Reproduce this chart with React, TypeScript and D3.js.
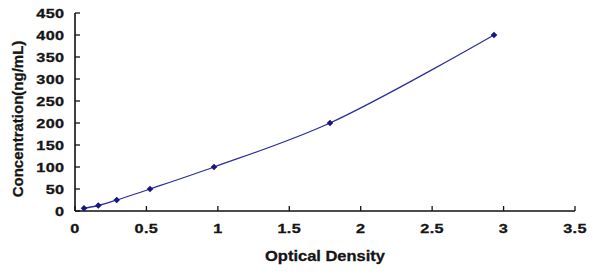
import React from "react";
import * as d3 from "d3";

const odValues = [0.063, 0.163, 0.292, 0.525, 0.973, 1.785, 2.933];
const concValues = [6.25, 12.5, 25, 50, 100, 200, 400];
const xTicks = [0, 0.5, 1, 1.5, 2, 2.5, 3, 3.5];
const yTicks = [0, 50, 100, 150, 200, 250, 300, 350, 400, 450];
const xTitle = "Optical Density";
const yTitle = "Concentration(ng/mL)";

const W = 600;
const H = 276;

export default function App() {
  const x = d3.scaleLinear().domain([0, 3.5]).range([75, 575]);
  const y = d3.scaleLinear().domain([0, 450]).range([211, 13]);
  const pts = odValues.map((v, i) => [v, concValues[i]] as [number, number]);
  const line = d3
    .line<[number, number]>()
    .x((d) => x(d[0]))
    .y((d) => y(d[1]))
    .curve(d3.curveCatmullRom.alpha(0.5));
  const font = "'Liberation Sans', Arial, sans-serif";
  const marker = d3.symbol().type(d3.symbolSquare).size(22)() || "";
  return (
    <svg
      width={W}
      height={H}
      style={{ position: "absolute", left: 0, top: 0, background: "#fff" }}
    >
      <rect width={W} height={H} fill="#fff" />
      <line x1={75} y1={y(450)} x2={75} y2={y(0)} stroke="#111" strokeWidth={1.6} />
      <line x1={75} y1={y(0)} x2={575} y2={y(0)} stroke="#111" strokeWidth={1.6} />
      {yTicks.map((t) => (
        <g key={"y" + t}>
          <line x1={75} x2={80} y1={y(t)} y2={y(t)} stroke="#111" strokeWidth={1.3} />
          <text
            transform={`translate(64.5,${y(t) + 4.6}) scale(1.3,1)`}
            textAnchor="end"
            fontFamily={font}
            fontWeight="bold"
            fontSize={12.5}
            letterSpacing={0.3}
            fill="#151515"
            stroke="#151515"
            strokeWidth={0.3}
          >
            {t}
          </text>
        </g>
      ))}
      {xTicks.map((t) => (
        <g key={"x" + t}>
          <line x1={x(t)} x2={x(t)} y1={y(0)} y2={y(0) - 5} stroke="#111" strokeWidth={1.3} />
          <text
            transform={`translate(${x(t)},${232.5}) scale(1.3,1)`}
            textAnchor="middle"
            fontFamily={font}
            fontWeight="bold"
            fontSize={12.5}
            letterSpacing={0.3}
            fill="#151515"
            stroke="#151515"
            strokeWidth={0.3}
          >
            {t}
          </text>
        </g>
      ))}
      <text
        transform={`translate(${(75 + 575) / 2},261) scale(1.1,1)`}
        textAnchor="middle"
        fontFamily={font}
        fontWeight="bold"
        fontSize={15}
        fill="#151515"
        stroke="#151515"
        strokeWidth={0.3}
      >
        {xTitle}
      </text>
      <text
        transform={`translate(23,${(38 + 200) / 2}) rotate(-90)`}
        textAnchor="middle"
        fontFamily={font}
        fontWeight="bold"
        fontSize={15}
        fill="#151515"
        stroke="#151515"
        strokeWidth={0.3}
      >
        {yTitle}
      </text>
      <path d={line(pts) || ""} fill="none" stroke="#2e2e9e" strokeWidth={1.3} />
      {pts.map((p, i) => (
        <path
          key={i}
          d={marker}
          transform={`translate(${x(p[0])},${y(p[1])}) rotate(45)`}
          fill="#16167e"
        />
      ))}
    </svg>
  );
}
